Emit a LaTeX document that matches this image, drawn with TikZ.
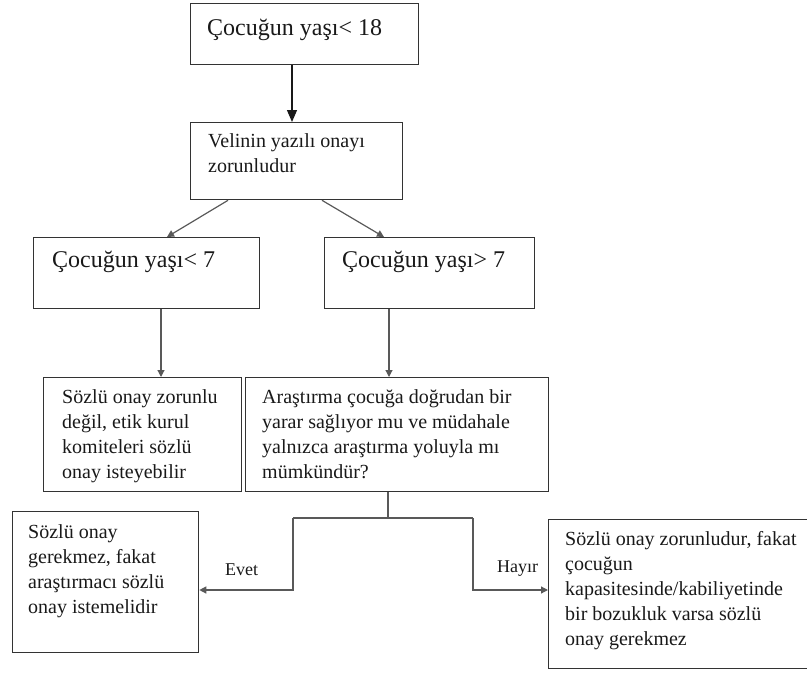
\documentclass[tikz,border=0pt]{standalone}
\usepackage{fontspec}
\setmainfont{Liberation Serif}
\usetikzlibrary{arrows.meta,calc}
\newcommand\mlines[1]{\vtop{\baselineskip=25pt\lineskip=0pt #1}}
\begin{document}
\begin{tikzpicture}[x=1pt,y=-1pt,
  box/.style={draw=black!80,line width=1.3pt,rectangle,inner sep=0pt,anchor=north west},
  bigtxt/.style={anchor=base west,inner sep=0pt,text=black!90,font=\fontsize{24}{29}\selectfont},
  txt/.style={anchor=base west,inner sep=0pt,text=black!90,font=\fontsize{20}{25}\selectfont},
  lbl/.style={anchor=base west,inner sep=0pt,text=black!90,font=\fontsize{18}{22}\selectfont},
  conn/.style={draw=black!65,line width=1.2pt},
  arr/.style={conn,-{Triangle[width=7pt,length=7pt]}},
  bigarr/.style={draw=black!90,line width=1.2pt,-{Triangle[width=10pt,length=12pt]}}]
\useasboundingbox (0,0) rectangle (807,675);
% boxes
\node[box,minimum width=228,minimum height=61] (b1) at (190,3) {};
\node[box,minimum width=212,minimum height=77] (b2) at (190,122) {};
\node[box,minimum width=226,minimum height=71] (b3) at (33,237) {};
\node[box,minimum width=210,minimum height=71] (b4) at (324,237) {};
\node[box,minimum width=198,minimum height=114] (b5) at (43,377) {};
\node[box,minimum width=303,minimum height=114] (b6) at (245,377) {};
\node[box,minimum width=186,minimum height=141] (b7) at (12,511) {};
\node[box,minimum width=267,minimum height=149] (b8) at (548,519) {};
% texts
\node[bigtxt] (t1) at ($(b1.north west)+(17,32)$) {Çocuğun yaşı< 18};
\node[txt] (t2) at ($(b2.north west)+(18,25)$) {\mlines{\hbox{Velinin yazılı onayı}\hbox{zorunludur}}};
\node[bigtxt] (t3) at ($(b3.north west)+(19,30)$) {Çocuğun yaşı< 7};
\node[bigtxt] (t4) at ($(b4.north west)+(18,30)$) {Çocuğun yaşı> 7};
\node[txt] (t5) at ($(b5.north west)+(19,26)$) {\mlines{\hbox{Sözlü onay zorunlu}\hbox{değil, etik kurul}\hbox{komiteleri sözlü}\hbox{onay isteyebilir}}};
\node[txt] (t6) at ($(b6.north west)+(17,26)$) {\mlines{\hbox{Araştırma çocuğa doğrudan bir}\hbox{yarar sağlıyor mu ve müdahale}\hbox{yalnızca araştırma yoluyla mı}\hbox{mümkündür?}}};
\node[txt] (t7) at ($(b7.north west)+(16,27)$) {\mlines{\hbox{Sözlü onay}\hbox{gerekmez, fakat}\hbox{araştırmacı sözlü}\hbox{onay istemelidir}}};
\node[txt] (t8) at ($(b8.north west)+(17,26)$) {\mlines{\hbox{Sözlü onay zorunludur, fakat}\hbox{çocuğun}\hbox{kapasitesinde/kabiliyetinde}\hbox{bir bozukluk varsa sözlü}\hbox{onay gerekmez}}};
% connectors
\draw[bigarr] ($(b1.south west)+(102,0)$) -- ($(b2.north west)+(102,0)$);
\draw[arr] ($(b2.south west)+(38,0)$) -- ($(b3.north west)+(134,0)$);
\draw[arr] ($(b2.south west)+(132,0)$) -- ($(b4.north west)+(60,0)$);
\draw[arr] ($(b3.south west)+(128,0)$) -- ($(b5.north west)+(118,0)$);
\draw[arr] ($(b4.south west)+(65,0)$) -- ($(b6.north west)+(144,0)$);
\coordinate (jm) at (388,518);
\coordinate (jl) at (293,518);
\coordinate (jr) at (473,518);
\draw[conn] ($(b6.south west)+(143,0)$) -- (jm);
\draw[conn] (jl) -- (jr);
\draw[arr] (jl) |- ($(b7.north east)+(0,79)$);
\draw[arr] (jr) |- ($(b8.north west)+(0,71)$);
\node[lbl] (evet) at (225,575) {Evet};
\node[lbl] (hayir) at (497,572) {Hayır};
\end{tikzpicture}
\end{document}
